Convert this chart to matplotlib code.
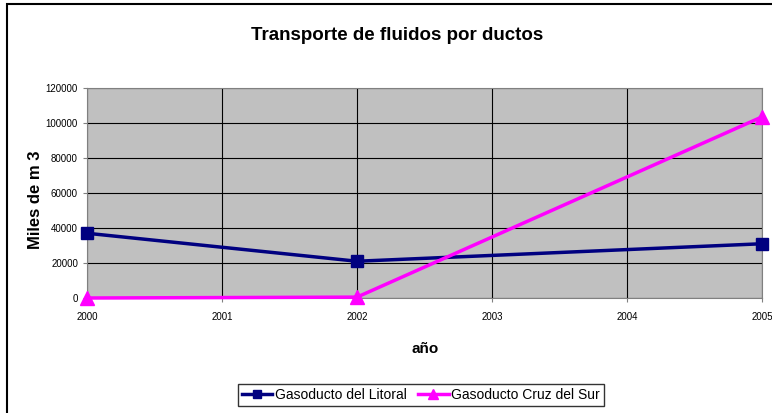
import matplotlib.pyplot as plt
from matplotlib.patches import Rectangle

plt.rcParams['font.family'] = ['Liberation Sans', 'DejaVu Sans']

anios = [2000, 2002, 2005]
litoral = [37000, 21000, 31000]
cruz_sur = [0, 500, 103500]
xticks = [2000, 2001, 2002, 2003, 2004, 2005]
yticks = [0, 20000, 40000, 60000, 80000, 100000, 120000]

fig = plt.figure(figsize=(7.72, 4.13), dpi=100)
ax = fig.add_axes([87/772, 1-298/413, (762-87)/772, (298-88)/413])
ax.set_facecolor('#c0c0c0')

ax.plot(anios, litoral, color='#000080', lw=2.5, marker='s', ms=9,
        label='Gasoducto del Litoral', clip_on=False, zorder=3)
ax.plot(anios, cruz_sur, color='#ff00ff', lw=2.5, marker='^', ms=10,
        label='Gasoducto Cruz del Sur', clip_on=False, zorder=3)

ax.set_xlim(2000, 2005)
ax.set_ylim(0, 120000)
ax.set_xticks(xticks)
ax.set_yticks(yticks)
ax.set_xticklabels([str(t) for t in xticks])
ax.tick_params(axis='both', labelsize=7, length=3, color='#808080')
ax.tick_params(axis='x', pad=7)
ax.grid(True, color='black', lw=0.8)
ax.set_axisbelow(True)
for s in ax.spines.values():
    s.set_color('#808080')

fig.text(397/772, 1-35/413, 'Transporte de fluidos por ductos', ha='center', va='center',
         fontsize=13.5, fontweight='bold')
fig.text(35/772, 1-200/413, 'Miles de m 3', ha='center', va='center', rotation=90,
         fontsize=12, fontweight='bold')
fig.text(425/772, 1-349/413, 'año', ha='center', va='center', fontsize=11, fontweight='bold')

leg = fig.legend(loc='center', bbox_to_anchor=(421/772, 1-395/413), ncol=2, fontsize=10,
                 frameon=True, fancybox=False, edgecolor='black', handlelength=2.2,
                 handletextpad=0.2, columnspacing=0.8, borderpad=0.3, numpoints=1,
                 markerscale=0.7)
leg.get_frame().set_linewidth(1)

# marco exterior del grafico
fig.patches.append(Rectangle((7/772, -0.1), 1.1, 1-4/413+0.1, transform=fig.transFigure,
                             fill=False, edgecolor='black', lw=1.5))

fig.savefig('out.png', dpi=100)
